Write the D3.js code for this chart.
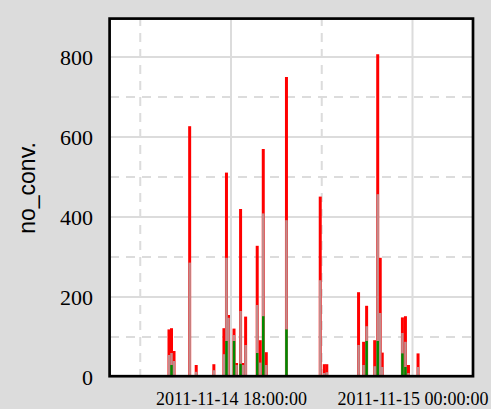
<!DOCTYPE html>
<html><head><meta charset="utf-8">
<script src="https://cdn.jsdelivr.net/npm/d3@7"></script>
<style>
html,body{margin:0;padding:0;background:#dcdcdc;}
svg{display:block;}
</style></head>
<body>
<svg id="chart" width="491" height="409"></svg>
<script>
// ---- data ----
const times = [
 "2011-11-14 15:57","2011-11-14 16:02","2011-11-14 16:07","2011-11-14 16:38","2011-11-14 16:51",
 "2011-11-14 17:26","2011-11-14 17:46","2011-11-14 17:51","2011-11-14 17:55","2011-11-14 18:06",
 "2011-11-14 18:11","2011-11-14 18:19","2011-11-14 18:24","2011-11-14 18:29","2011-11-14 18:52",
 "2011-11-14 18:58","2011-11-14 19:04","2011-11-14 19:10","2011-11-14 19:50","2011-11-14 20:57",
 "2011-11-14 21:05","2011-11-14 21:10","2011-11-14 22:13","2011-11-14 22:23","2011-11-14 22:29",
 "2011-11-14 22:45","2011-11-14 22:51","2011-11-14 22:56","2011-11-14 23:00","2011-11-14 23:40",
 "2011-11-14 23:46","2011-11-14 23:52","2011-11-15 00:11"
];
const redVals   = [119,122,65,627,30, 32,122,511,155,121, 35,420,35,151,328, 92,570,62,750,451, 32,32,212,88,178, 92,807,298,61,149, 152,30,59];
const grayVals  = [55,60,40,286,13, 17,57,298,148,105, 30,165,30,80,180, 36,409,30,392,242, 10,12,80,30,127, 27,457,160,25,110, 88,10,25];
const greenVals = [0,30,0,0,0, 0,0,90,0,90, 0,33,0,0,60, 0,152,0,119,0, 0,0,0,0,90, 0,90,0,0,59, 25,0,0];
const yTicks = [0,200,400,600,800];
const yMinor = [100,300,500,700];
const xTickLabels = ["2011-11-14 18:00:00","2011-11-15 00:00:00"];
const xMinorLabels = ["2011-11-14 15:00:00","2011-11-14 21:00:00"];
const yTitle = "no_conv.";

// ---- setup ----
const parseMin = d3.timeParse("%Y-%m-%d %H:%M");
const parseSec = d3.timeParse("%Y-%m-%d %H:%M:%S");
const fmt = d3.timeFormat("%Y-%m-%d %H:%M:%S");
const svg = d3.select("#chart");
const L = 110, R = 473, T = 17, B = 377;
const x = d3.scaleTime()
  .domain([parseSec("2011-11-14 14:00:00"), parseSec("2011-11-15 02:00:00")])
  .range([L, R]);
const y = d3.scaleLinear().domain([0, 900]).range([B, T]);

// panel
svg.append("rect").attr("x", 109.6).attr("y", 18.6).attr("width", 363.4).attr("height", 357.6)
  .attr("fill", "#ffffff");

const g = svg.append("g");
const gridCol = "#dcdcdc";
// horizontal grid
g.selectAll(".hmaj").data(yTicks.slice(1)).enter().append("line")
  .attr("x1", L).attr("x2", R).attr("y1", d => y(d)).attr("y2", d => y(d))
  .attr("stroke", gridCol).attr("stroke-width", 2);
g.selectAll(".hmin").data(yMinor).enter().append("line")
  .attr("x1", L).attr("x2", R).attr("y1", d => y(d)).attr("y2", d => y(d))
  .attr("stroke", gridCol).attr("stroke-width", 2).attr("stroke-dasharray", "9,7");
// vertical grid
g.selectAll(".vmaj").data(xTickLabels).enter().append("line")
  .attr("x1", d => x(parseSec(d))).attr("x2", d => x(parseSec(d))).attr("y1", T).attr("y2", B)
  .attr("stroke", gridCol).attr("stroke-width", 2);
g.selectAll(".vmin").data(xMinorLabels).enter().append("line")
  .attr("x1", d => x(parseSec(d))).attr("x2", d => x(parseSec(d))).attr("y1", T).attr("y2", B)
  .attr("stroke", gridCol).attr("stroke-width", 2).attr("stroke-dasharray", "9,7");

// bars as vertical lines
const pts = times.map((t, i) => ({t: parseMin(t), r: redVals[i], gr: grayVals[i], gn: greenVals[i]}));
function drawSeries(key, color, w) {
  g.append("g").selectAll("line").data(pts.filter(d => d[key] > 0)).enter().append("line")
    .attr("x1", d => x(d.t)).attr("x2", d => x(d.t))
    .attr("y1", y(0)).attr("y2", d => y(d[key]))
    .attr("stroke", color).attr("stroke-width", w);
}
drawSeries("r", "#ff0000", 3);
drawSeries("gr", "#c48a8a", 2.5);
drawSeries("gn", "#008a00", 2.5);

// border
svg.append("rect").attr("x", 109.6).attr("y", 18.6).attr("width", 363.4).attr("height", 357.6)
  .attr("fill", "none").attr("stroke", "#000").attr("stroke-width", 2.7);

// y axis
const yAxis = d3.axisLeft(y).tickValues(yTicks).tickSize(0).tickPadding(17);
const ya = svg.append("g").attr("transform", `translate(${L},0)`).call(yAxis);
ya.select(".domain").remove();
ya.selectAll("text").attr("font-family", "'Liberation Serif','Times New Roman',serif")
  .attr("font-size", 22).attr("fill", "#000").attr("dy", "0.34em");

// x axis
const xAxis = d3.axisBottom(x).tickValues(xTickLabels.map(parseSec)).tickFormat(fmt).tickSize(0);
const xa = svg.append("g").attr("transform", `translate(0,${B})`).call(xAxis);
xa.select(".domain").remove();
xa.selectAll("text").attr("font-family", "'Liberation Serif','Times New Roman',serif")
  .attr("font-size", 18).attr("fill", "#000").attr("y", 28).attr("dy", 0);

// y title
svg.append("text").attr("transform", "translate(35,188) rotate(-90)")
  .attr("text-anchor", "middle").attr("font-family", "'Liberation Sans',Arial,sans-serif")
  .attr("font-size", 23).attr("fill", "#000").text(yTitle);
</script>
</body></html>
